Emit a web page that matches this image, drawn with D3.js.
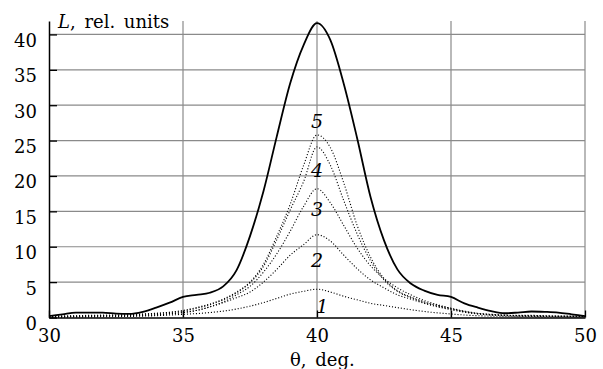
<!DOCTYPE html>
<html>
<head>
<meta charset="utf-8">
<script src="https://cdn.jsdelivr.net/npm/d3@7"></script>
<style>
  body { margin: 0; background: #fff; }
  text { font-family: "DejaVu Serif", serif; fill: #000; }
</style>
</head>
<body>
<svg></svg>
<script>
var svgWidth = 603, svgHeight = 369;

// angle, deg.
var theta = [30, 30.5, 31, 31.5, 32, 32.5, 33, 33.5, 34, 34.5,
             35, 35.5, 36, 36.5, 37, 37.5, 38, 38.5, 39, 39.5,
             40, 40.5, 41, 41.5, 42, 42.5, 43, 43.5, 44, 44.5,
             45, 45.5, 46, 46.5, 47, 47.5, 48, 48.5, 49, 49.5, 50];

// total (solid line)
var total = [0.2, 0.45, 0.7, 0.7, 0.7, 0.55, 0.5, 0.8, 1.4, 2.1,
             2.9, 3.2, 3.5, 4.4, 6.7, 11.5, 17.8, 25.6, 33.1, 38.5,
             41.6, 39.2, 33.0, 25.3, 17.0, 10.9, 6.8, 4.8, 3.8, 3.2,
             2.9, 2.0, 1.4, 0.9, 0.6, 0.7, 0.85, 0.8, 0.7, 0.45, 0.2];

// dotted curves 1..5
var curve1 = [0.05, 0.06, 0.08, 0.09, 0.1, 0.12, 0.15, 0.2, 0.25, 0.35,
              0.45, 0.55, 0.7, 0.9, 1.2, 1.6, 2.1, 2.7, 3.3, 3.7,
              4.0, 3.6, 3.0, 2.5, 2.0, 1.7, 1.4, 1.1, 0.85, 0.65,
              0.5, 0.35, 0.25, 0.2, 0.15, 0.12, 0.1, 0.08, 0.07, 0.06, 0.05];
var curve2 = [0.1, 0.12, 0.15, 0.18, 0.2, 0.22, 0.25, 0.3, 0.35, 0.5,
              0.7, 1.0, 1.5, 2.1, 2.8, 3.6, 5.0, 6.8, 8.8, 10.3,
              11.7, 10.8, 8.8, 6.9, 5.3, 4.2, 3.2, 2.6, 2.0, 1.5,
              1.1, 0.75, 0.5, 0.35, 0.25, 0.2, 0.18, 0.15, 0.12, 0.1, 0.1];
var curve3 = [0.1, 0.12, 0.15, 0.2, 0.22, 0.25, 0.3, 0.35, 0.4, 0.55,
              0.7, 1.0, 1.5, 2.2, 3.2, 4.4, 6.4, 9.0, 12.2, 15.7,
              18.2, 16.2, 13.0, 9.8, 7.3, 5.5, 4.2, 3.2, 2.4, 1.8,
              1.3, 0.8, 0.55, 0.4, 0.3, 0.25, 0.2, 0.18, 0.15, 0.12, 0.1];
var curve4 = [0.15, 0.2, 0.2, 0.25, 0.3, 0.3, 0.35, 0.45, 0.55, 0.7,
              0.9, 1.3, 1.8, 2.5, 3.5, 4.9, 7.2, 11.0, 15.2, 19.2,
              24.1, 21.5, 16.5, 11.8, 8.0, 5.3, 3.7, 2.8, 2.1, 1.6,
              1.2, 0.85, 0.55, 0.4, 0.3, 0.28, 0.25, 0.22, 0.2, 0.18, 0.15];
var curve5 = [0.2, 0.2, 0.25, 0.3, 0.3, 0.35, 0.4, 0.5, 0.6, 0.75,
              1.0, 1.4, 1.9, 2.6, 3.6, 5.0, 7.5, 11.5, 16.0, 21.5,
              25.8, 24.0, 19.0, 13.0, 8.5, 5.5, 3.8, 2.9, 2.2, 1.7,
              1.3, 0.9, 0.6, 0.45, 0.35, 0.3, 0.3, 0.25, 0.2, 0.2, 0.15];

// curve numbers and where they sit (theta, value at baseline)
var labelText = ["1", "2", "3", "4", "5"];
var labelTheta = [40.2, 40.0, 40.0, 40.0, 40.0];
var labelValue = [0.6, 7.1, 14.4, 19.9, 26.8];

var xTicks = [30, 35, 40, 45, 50];
var yTicks = [0, 5, 10, 15, 20, 25, 30, 35, 40];

var svg = d3.select("svg")
            .attr("width", svgWidth)
            .attr("height", svgHeight);

var x = d3.scaleLinear().domain([30, 50]).range([49, 585]);
var y = d3.scaleLinear().domain([0, 41.9]).range([317.5, 21]);

// grid
svg.append("g").selectAll("line.hgrid")
    .data(yTicks.slice(1))
    .enter().append("line")
        .attr("class", "hgrid")
        .attr("x1", x(30)).attr("x2", x(50))
        .attr("y1", function(d) { return y(d); })
        .attr("y2", function(d) { return y(d); })
        .style("stroke", "#8a8a8a")
        .style("stroke-width", 1.2);

svg.append("g").selectAll("line.vgrid")
    .data(xTicks.slice(1))
    .enter().append("line")
        .attr("class", "vgrid")
        .attr("x1", function(d) { return x(d); })
        .attr("x2", function(d) { return x(d); })
        .attr("y1", y(41.9)).attr("y2", y(0))
        .style("stroke", "#8a8a8a")
        .style("stroke-width", 1.2);

// axes
var yAxis = svg.append("g")
    .attr("transform", "translate(" + x(30) + ",0)")
    .call(d3.axisLeft(y).tickValues(yTicks).tickSizeInner(-8).tickSizeOuter(0).tickPadding(12));

var xAxis = svg.append("g")
    .attr("transform", "translate(0," + y(0) + ")")
    .call(d3.axisBottom(x).tickValues(xTicks).tickSizeInner(-7).tickSizeOuter(0));

[yAxis, xAxis].forEach(function(ax) {
    ax.attr("font-family", null).attr("font-size", null);
    ax.select(".domain").style("stroke", "#000").style("stroke-width", 1.5);
    ax.selectAll(".tick line").style("stroke", "#000").style("stroke-width", 1.3);
    ax.selectAll(".tick text")
        .style("font-family", "'DejaVu Serif', serif")
        .style("font-size", "18px")
        .attr("fill", "#000");
});
yAxis.selectAll(".tick text").attr("dy", "12px");
xAxis.selectAll(".tick text").attr("y", 0).attr("dy", "24px");

// curves
var line = function(values) {
    return d3.line()
        .x(function(d, i) { return x(theta[i]); })
        .y(function(d) { return y(d); })
        .curve(d3.curveMonotoneX)(values);
};

[curve1, curve2, curve3, curve4, curve5].forEach(function(c) {
    svg.append("path")
        .attr("d", line(c))
        .style("fill", "none")
        .style("stroke", "#000")
        .style("stroke-width", 1.1)
        .style("stroke-dasharray", "1.1,1.9");
});

svg.append("path")
    .attr("d", line(total))
    .style("fill", "none")
    .style("stroke", "#000")
    .style("stroke-width", 1.8);

// curve numbers
svg.append("g").selectAll("text")
    .data(labelText)
    .enter().append("text")
        .attr("x", function(d, i) { return x(labelTheta[i]); })
        .attr("y", function(d, i) { return y(labelValue[i]); })
        .attr("text-anchor", "middle")
        .style("font-size", "19px")
        .style("font-style", "italic")
        .text(function(d) { return d; });

// axis titles
var title = svg.append("text")
    .attr("x", 58)
    .attr("y", 28)
    .style("font-size", "18px")
    .style("word-spacing", "3px");
title.append("tspan").style("font-style", "italic").text("L");
title.append("tspan").text(", rel. units");

svg.append("text")
    .attr("x", x(40.2))
    .attr("y", 366)
    .attr("text-anchor", "middle")
    .style("font-size", "18px")
    .style("word-spacing", "3px")
    .text("θ, deg.");
</script>
</body>
</html>
